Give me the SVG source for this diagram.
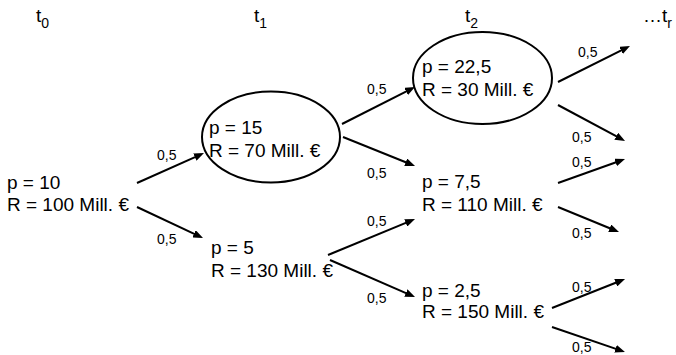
<svg xmlns="http://www.w3.org/2000/svg" width="676" height="355" viewBox="0 0 676 355">
<style>
.t{font-family:"Liberation Sans",Arial,sans-serif;font-size:19px;fill:#000}
.s{font-family:"Liberation Sans",Arial,sans-serif;font-size:14px;fill:#000}
.e{fill:none;stroke:#000;stroke-width:2}
.c line{stroke:#000;stroke-width:2;marker-end:url(#ah)}
</style>
<defs>
<marker id="ah" markerUnits="userSpaceOnUse" markerWidth="10" markerHeight="8" refX="2" refY="4" orient="auto"><path d="M0,0 L10,4 L0,8 z" fill="#000"/></marker>
</defs>
<g id="time-labels">
<text class="t" x="36" y="22">t<tspan class="s" dy="6">0</tspan></text>
<text class="t" x="254" y="22">t<tspan class="s" dy="6">1</tspan></text>
<text class="t" x="465" y="22">t<tspan class="s" dy="6">2</tspan></text>
<text class="t" x="643" y="22">…t<tspan class="s" dy="6">r</tspan></text>
</g>
<g id="n0">
<text class="t" x="7" y="189">p = 10</text>
<text class="t" x="7" y="211">R = 100 Mill. €</text>
</g>
<g id="n1u">
<ellipse class="e" cx="271" cy="137" rx="69" ry="45.5"/>
<text class="t" x="209" y="134">p = 15</text>
<text class="t" x="209" y="157">R = 70 Mill. €</text>
</g>
<g id="n1d">
<text class="t" x="211" y="254">p = 5</text>
<text class="t" x="211" y="277">R = 130 Mill. €</text>
</g>
<g id="n2u">
<ellipse class="e" cx="482.5" cy="78" rx="69.5" ry="46"/>
<text class="t" x="422" y="73">p = 22,5</text>
<text class="t" x="422" y="96">R = 30 Mill. €</text>
</g>
<g id="n2m">
<text class="t" x="422" y="188">p = 7,5</text>
<text class="t" x="422" y="211">R = 110 Mill. €</text>
</g>
<g id="n2d">
<text class="t" x="422" y="297">p = 2,5</text>
<text class="t" x="422" y="318">R = 150 Mill. €</text>
</g>
<g id="connectors" class="c">
<line x1="137" y1="183" x2="196.7" y2="156.3"/>
<line x1="137" y1="207" x2="195.8" y2="234.6"/>
<line x1="342" y1="124" x2="407.9" y2="90.6"/>
<line x1="343" y1="137" x2="407.6" y2="163"/>
<line x1="558" y1="82" x2="622.8" y2="49.6"/>
<line x1="558" y1="105" x2="618" y2="137.2"/>
<line x1="558" y1="183" x2="617.5" y2="161.7"/>
<line x1="558" y1="207" x2="611.6" y2="229"/>
<line x1="328" y1="255" x2="407.6" y2="222.1"/>
<line x1="330" y1="260" x2="407.7" y2="293.8"/>
<line x1="552" y1="308" x2="617.6" y2="282"/>
<line x1="552" y1="327" x2="617.4" y2="349.4"/>
</g>
<g id="edge-labels">
<text class="s" x="157" y="160">0,5</text>
<text class="s" x="157" y="244">0,5</text>
<text class="s" x="367" y="94">0,5</text>
<text class="s" x="367" y="178">0,5</text>
<text class="s" x="578" y="57">0,5</text>
<text class="s" x="572" y="142">0,5</text>
<text class="s" x="572" y="167">0,5</text>
<text class="s" x="572" y="238">0,5</text>
<text class="s" x="367" y="226">0,5</text>
<text class="s" x="367" y="303">0,5</text>
<text class="s" x="572" y="292">0,5</text>
<text class="s" x="572" y="352">0,5</text>
</g>
</svg>
